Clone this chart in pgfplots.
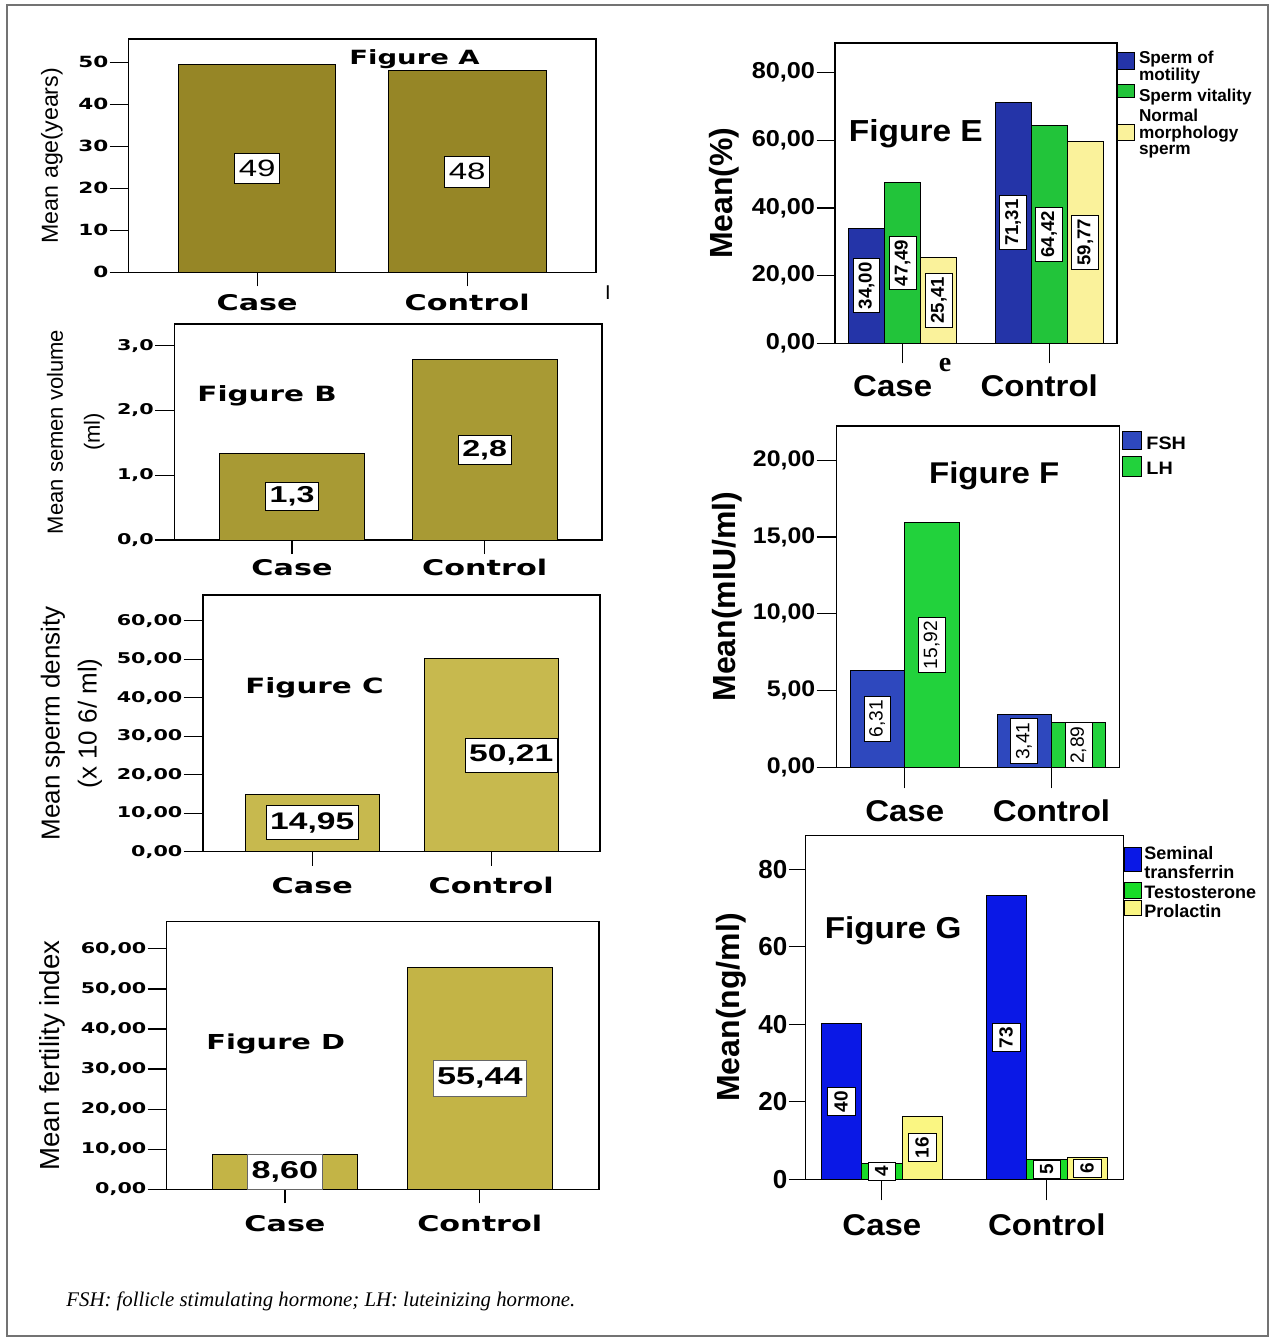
\documentclass[border=0pt]{standalone}
\usepackage{pgfplots}
\pgfplotsset{compat=1.18}
\usepackage{fontspec}
\setmainfont{Liberation Sans}
\newfontfamily\dvw{DejaVu Sans}[FakeStretch=1.4]
\newfontfamily\lsw{Liberation Sans}[FakeStretch=1.4]
\newfontfamily\lse{Liberation Sans}[FakeStretch=1.1]
\newfontfamily\lser{Liberation Serif}
\newcommand\fz[2]{\fontsize{#1}{#2}\selectfont}
\newcommand\legt[1]{\begin{tabular}{@{}l@{}}#1\end{tabular}}

\definecolor{olA}{RGB}{150,134,38}
\definecolor{olB}{RGB}{168,154,52}
\definecolor{olC}{RGB}{199,185,78}
\definecolor{olD}{RGB}{195,180,70}
\definecolor{bluE}{RGB}{36,52,168}
\definecolor{grnE}{RGB}{34,196,58}
\definecolor{ylwE}{RGB}{250,242,155}
\definecolor{bluF}{RGB}{46,72,190}
\definecolor{grnF}{RGB}{34,210,60}
\definecolor{bluG}{RGB}{10,24,230}
\definecolor{grnG}{RGB}{24,220,40}
\definecolor{ylwG}{RGB}{250,246,130}

\tikzset{sqoff/.store in=\sqoff, sqoff=0pt, sqh/.store in=\sqh, sqh=8.5pt}

\pgfplotsset{
  panel/.style={
    scale only axis, anchor=south west, ymin=0, clip=false,
    axis line style={black, line width=0.7pt},
    tick align=outside, tick pos=left,
    xtick={0,1}, xticklabels={Case,Control},
    tick style={black, line width=0.6pt},
    yticklabel style={inner xsep=0.5pt},
    xticklabel style={anchor=base},
    ylabel style={anchor=center},
    legend cell align=left,
  },
  vlab/.style 2 args={
    nodes near coords={\pgfplotspointmeta}, point meta=explicit symbolic,
    visualization depends on={y \as \rawy},
    every node near coord/.append style={yshift={-\rawy*#1}, anchor=center,
      fill=white, draw=black, line width=0.5pt, inner xsep=2pt, inner ysep=2.5pt, #2},
  },
  sqw/.style={legend image code/.code={\path (0pt,0pt) -- (#1,0pt);
     \draw[##1,/tikz/.cd,draw=black,line width=0.4pt,overlay] (0pt,\sqoff-0.5*\sqh) rectangle (#1,\sqoff+0.5*\sqh);}},
}

\begin{document}
\begin{tikzpicture}
\useasboundingbox (0pt,0pt) rectangle (634.5pt,-669pt);
\draw[black!55, line width=1pt] (3.5pt,-2.5pt) rectangle (634pt,-668pt);

% ---------------- Figure A
\begin{axis}[panel, at={(64.3pt,-136.15pt)}, width=233.7pt, height=116.65pt,
  xmin=-0.612, xmax=1.613, ymax=55.5, ybar=0pt, bar width=0.75,
  ytick={0,10,20,30,40,50}, yticklabels={0,10,20,30,40,50},
  xtick style={/pgfplots/major tick length=7pt}, ytick style={/pgfplots/major tick length=9.5pt},
  yticklabel style={font=\dvw\bfseries\fz{7.7pt}{9pt}, xshift=-5.2pt},
  xticklabel style={font=\dvw\bfseries\fz{10.8pt}{13pt}, yshift=-14.6pt},
  ylabel={Mean age(years)},
  ylabel style={at={(axis description cs:-0.164,0.5)}, font=\fz{11.6pt}{14pt}},
]
\addplot[fill=olA, draw=black, line width=0.5pt,
  vlab={1.051pt}{font=\lsw\fz{11.8pt}{14pt}, text height=8.5pt, text depth=0.5pt, inner ysep=3.2pt}] table[meta=lab]{
x y lab
0 49.4 49
1 47.9 48
};
\node[anchor=base west, inner sep=0pt, font=\dvw\bfseries\fz{9.8pt}{12pt}] at (rel axis cs:0.4716,0.8886) {Figure A};
\node[font=\fz{10pt}{12pt}] at (rel axis cs:1.0257,-0.0887) {I};
\end{axis}

% ---------------- Figure B
\begin{axis}[panel, at={(87.35pt,-270pt)}, width=213.65pt, height=108pt,
  xmin=-0.609, xmax=1.609, ymax=3.333, ybar=0pt, bar width=0.753,
  ytick={0,1,2,3}, yticklabels={{0,0},{1,0},{2,0},{3,0}},
  xtick style={/pgfplots/major tick length=7pt}, ytick style={/pgfplots/major tick length=9.8pt},
  yticklabel style={font=\dvw\bfseries\fz{7.4pt}{9pt}, xshift=-5.5pt},
  xticklabel style={font=\dvw\bfseries\fz{10.8pt}{13pt}, yshift=-13.5pt},
  ylabel={Mean semen volume\\(ml)},
  ylabel style={align=center, at={(axis description cs:-0.232,0.5)}, font=\fz{11pt}{18.5pt}},
]
\addplot[fill=olB, draw=black, line width=0.5pt,
  vlab={16.2pt}{font=\lsw\bfseries\fz{11.5pt}{14pt}, text height=8.3pt, text depth=2pt, inner ysep=1.9pt}] table[meta=lab]{
x y lab
0 1.34 1,3
1 2.78 2,8
};
\node[anchor=base west, inner sep=0pt, font=\dvw\bfseries\fz{10.5pt}{12pt}] at (rel axis cs:0.0524,0.640) {Figure B};
\end{axis}

% ---------------- Figure C
\begin{axis}[panel, at={(101.45pt,-425.85pt)}, width=198.55pt, height=128.35pt,
  xmin=-0.611, xmax=1.608, ymax=66.64, ybar=0pt, bar width=0.749,
  ytick={0,10,20,30,40,50,60}, yticklabels={{0,00},{10,00},{20,00},{30,00},{40,00},{50,00},{60,00}},
  xtick style={/pgfplots/major tick length=7pt}, ytick style={/pgfplots/major tick length=9.6pt},
  yticklabel style={font=\dvw\bfseries\fz{7.4pt}{9pt}, xshift=-5.3pt},
  xticklabel style={font=\dvw\bfseries\fz{10.8pt}{13pt}, yshift=-16.5pt},
  ylabel={Mean sperm density\\(x 10 6/ ml)},
  ylabel style={align=center, at={(axis description cs:-0.331,0.5)}, font=\fz{13pt}{18.5pt}},
]
\addplot[fill=olC, draw=black, line width=0.5pt,
  visualization depends on={\thisrow{dx} \as \dx},
  vlab={0.963pt}{font=\lsw\bfseries\fz{12pt}{14pt}, text height=8.6pt, text depth=2.2pt, inner ysep=3.1pt, xshift={\dx*1pt}}] table[meta=lab]{
x y lab dx
0 14.95 14,95 0
1 50.21 50,21 10
};
\node[anchor=base west, inner sep=0pt, font=\dvw\bfseries\fz{10.5pt}{12pt}] at (rel axis cs:0.1058,0.617) {Figure C};
\end{axis}

% ---------------- Figure D
\begin{axis}[panel, at={(83.25pt,-594.65pt)}, width=216.15pt, height=133.8pt,
  xmin=-0.608, xmax=1.611, ymax=66.78, ybar=0pt, bar width=0.746,
  ytick={0,10,20,30,40,50,60}, yticklabels={{0,00},{10,00},{20,00},{30,00},{40,00},{50,00},{60,00}},
  xtick style={/pgfplots/major tick length=7pt}, ytick style={/pgfplots/major tick length=9.4pt},
  yticklabel style={font=\dvw\bfseries\fz{7.4pt}{9pt}, xshift=-5.1pt},
  xticklabel style={font=\dvw\bfseries\fz{10.8pt}{13pt}, yshift=-16.9pt},
  ylabel={Mean fertility index},
  ylabel style={at={(axis description cs:-0.265,0.5)}, font=\fz{13.8pt}{16pt}},
]
\addplot[fill=olD, draw=black, line width=0.5pt,
  vlab={1.0018pt}{font=\lsw\bfseries\fz{12.2pt}{14pt}, text height=8.7pt, text depth=2.2pt, inner ysep=3.5pt, draw=black!60}] table[meta=lab]{
x y lab
0 8.60 8,60
1 55.44 55,44
};
\node[anchor=base west, inner sep=0pt, font=\dvw\bfseries\fz{10.3pt}{12pt}] at (rel axis cs:0.0916,0.5206) {Figure D};
\end{axis}

% ---------------- Figure E
\begin{axis}[panel, at={(417.5pt,-171.65pt)}, width=141pt, height=150.15pt,
  xmin=-0.462, xmax=1.463, ymax=88.77, ybar=0pt, bar width=0.2464,
  every axis plot post/.append style={sqw=8.5pt},
  ytick={0,20,40,60,80}, yticklabels={{0,00},{20,00},{40,00},{60,00},{80,00}},
  xtick style={/pgfplots/major tick length=10pt}, ytick style={/pgfplots/major tick length=9.25pt},
  yticklabel style={font=\lse\bfseries\fz{11.5pt}{14pt}, xshift=-5pt},
  xticklabel style={font=\lse\bfseries\fz{15pt}{18pt}, yshift=-22.4pt, xshift=-5pt},
  ylabel={Mean(\%)},
  ylabel style={at={(axis description cs:-0.394,0.5)}, font=\bfseries\fz{16pt}{19pt}},
  legend style={at={(1.0,0.974)}, anchor=north west, draw=none, fill=none, inner sep=0pt, outer sep=0pt,
    row sep=1.6pt, font=\bfseries\fz{8.6pt}{8pt}, nodes={inner sep=0pt, text depth=},
    /tikz/every odd column/.append style={column sep=2pt}},
]
\addplot[fill=bluE, draw=black, line width=0.5pt, sqoff=3.75pt, sqh=8.35pt,
  vlab={0.8457pt}{rotate=90, font=\bfseries\fz{9.3pt}{11pt}, text height=6.7pt, text depth=1.7pt, inner xsep=1.8pt, inner ysep=2.5pt}] table[meta=lab]{
x y lab
0 34.00 34,00
1 71.31 71,31
};
\addlegendentry{\legt{Sperm of\\motility}}
\addplot[fill=grnE, draw=black, line width=0.5pt, sqoff=3.05pt, sqh=6.7pt,
  vlab={0.8457pt}{rotate=90, font=\bfseries\fz{9.3pt}{11pt}, text height=6.7pt, text depth=1.7pt, inner xsep=1.8pt, inner ysep=2.5pt}] table[meta=lab]{
x y lab
0 47.49 47,49
1 64.42 64,42
};
\addlegendentry{\legt{Sperm vitality}}
\addplot[fill=ylwE, draw=black, line width=0.5pt, sqoff=1.0pt, sqh=8.35pt,
  vlab={0.8457pt}{rotate=90, font=\bfseries\fz{9.3pt}{11pt}, text height=6.7pt, text depth=1.7pt, inner xsep=1.8pt, inner ysep=2.5pt}] table[meta=lab]{
x y lab
0 25.41 25,41
1 59.77 59,77
};
\addlegendentry{\legt{Normal\\morphology\\sperm}}
\node[anchor=base west, inner sep=0pt, font=\lse\bfseries\fz{15.2pt}{18pt}] at (rel axis cs:0.048,0.671) {Figure E};
\node[font=\lser\bfseries\fz{14pt}{16pt}] at (rel axis cs:0.39,-0.072) {e};
\end{axis}

% ---------------- Figure F
\begin{axis}[panel, at={(418.25pt,-383.65pt)}, width=141.4pt, height=170.65pt,
  xmin=-0.4646, xmax=1.462, ymax=22.22, ybar=0pt, bar width=0.3706,
  every axis plot post/.append style={sqw=9.5pt},
  ytick={0,5,10,15,20}, yticklabels={{0,00},{5,00},{10,00},{15,00},{20,00}},
  xtick style={/pgfplots/major tick length=10.5pt}, ytick style={/pgfplots/major tick length=10pt},
  yticklabel style={font=\lse\bfseries\fz{11.3pt}{14pt}, xshift=-5.7pt},
  xticklabel style={font=\lse\bfseries\fz{15pt}{18pt}, yshift=-22.9pt},
  ylabel={Mean(mIU/ml)},
  ylabel style={at={(axis description cs:-0.387,0.5)}, font=\bfseries\fz{16pt}{19pt}},
  legend style={at={(1.0096,0.975)}, anchor=north west, draw=none, fill=none, inner sep=0pt, outer sep=0pt,
    row sep=1.5pt, font=\lse\bfseries\fz{9pt}{11pt}, nodes={inner sep=0pt, text depth=},
    /tikz/every odd column/.append style={column sep=2.2pt}},
]
\addplot[fill=bluF, draw=black, line width=0.5pt, sqoff=2.55pt, sqh=8.8pt,
  vlab={3.84pt}{rotate=90, font=\fz{9.6pt}{11pt}, text height=6.9pt, text depth=1.7pt, inner xsep=1.8pt, inner ysep=2.4pt}] table[meta=lab]{
x y lab
0 6.31 6,31
1 3.41 3,41
};
\addlegendentry{\legt{FSH}}
\addplot[fill=grnF, draw=black, line width=0.5pt, sqoff=1.9pt, sqh=9.85pt,
  vlab={3.84pt}{rotate=90, font=\fz{9.6pt}{11pt}, text height=6.9pt, text depth=1.7pt, inner xsep=1.8pt, inner ysep=2.4pt}] table[meta=lab]{
x y lab
0 15.92 15,92
1 2.89 2,89
};
\addlegendentry{\legt{LH}}
\node[anchor=base west, inner sep=0pt, font=\lse\bfseries\fz{15pt}{18pt}] at (rel axis cs:0.326,0.832) {Figure F};
\end{axis}

% ---------------- Figure G
\begin{axis}[panel, at={(402.85pt,-589.65pt)}, width=158.85pt, height=171.8pt,
  xmin=-0.462, xmax=1.4645, ymax=88.67, ybar=0pt, bar width=0.2456,
  every axis plot post/.append style={sqw=8.7pt},
  ytick={0,20,40,60,80}, yticklabels={0,20,40,60,80},
  xtick style={/pgfplots/major tick length=10.5pt}, ytick style={/pgfplots/major tick length=8.5pt},
  yticklabel style={font=\bfseries\fz{13pt}{15pt}, xshift=-4.2pt},
  xticklabel style={font=\lse\bfseries\fz{15pt}{18pt}, yshift=-23.6pt},
  ylabel={Mean(ng/ml)},
  ylabel style={at={(axis description cs:-0.235,0.5)}, font=\bfseries\fz{16pt}{19pt}},
  legend style={at={(1.0,0.968)}, anchor=north west, draw=none, fill=none, inner sep=0pt, outer sep=0pt,
    row sep=0.35pt, font=\bfseries\fz{9pt}{8.8pt}, nodes={inner sep=0pt, text depth=},
    /tikz/every odd column/.append style={column sep=1.3pt}},
]
\addplot[fill=bluG, draw=black, line width=0.5pt, sqoff=3.2pt, sqh=11.85pt,
  vlab={0.9688pt}{rotate=90, font=\bfseries\fz{9.5pt}{11pt}, text height=6.8pt, text depth=0.5pt, inner xsep=1.8pt, inner ysep=3.2pt}] table[meta=lab]{
x y lab
0 40.1 40
1 73.2 73
};
\addlegendentry{\legt{Seminal\\transferrin\rule[-3.74pt]{0pt}{3.74pt}}}
\addplot[fill=grnG, draw=black, line width=0.5pt, sqoff=2.25pt, sqh=7.85pt,
  vlab={0.9688pt}{rotate=90, font=\bfseries\fz{9.5pt}{11pt}, text height=6.8pt, text depth=0.5pt, inner xsep=1.8pt, inner ysep=3.2pt}] table[meta=lab]{
x y lab
0 4.1 4
1 5.0 5
};
\addlegendentry{\legt{Testosterone}}
\addplot[fill=ylwG, draw=black, line width=0.5pt, sqoff=2.9pt, sqh=7.5pt,
  vlab={0.9688pt}{rotate=90, font=\bfseries\fz{9.5pt}{11pt}, text height=6.8pt, text depth=0.5pt, inner xsep=1.8pt, inner ysep=3.2pt}] table[meta=lab]{
x y lab
0 16.3 16
1 5.7 6
};
\addlegendentry{\legt{Prolactin}}
\node[anchor=base west, inner sep=0pt, font=\lse\bfseries\fz{15.1pt}{18pt}] at (rel axis cs:0.059,0.701) {Figure G};
\end{axis}

\node[anchor=base west, inner sep=0pt, font=\lser\itshape\fz{10.4pt}{12pt}] at (33pt,-653pt)
  {FSH: follicle stimulating hormone; LH: luteinizing hormone.};
\end{tikzpicture}
\end{document}
